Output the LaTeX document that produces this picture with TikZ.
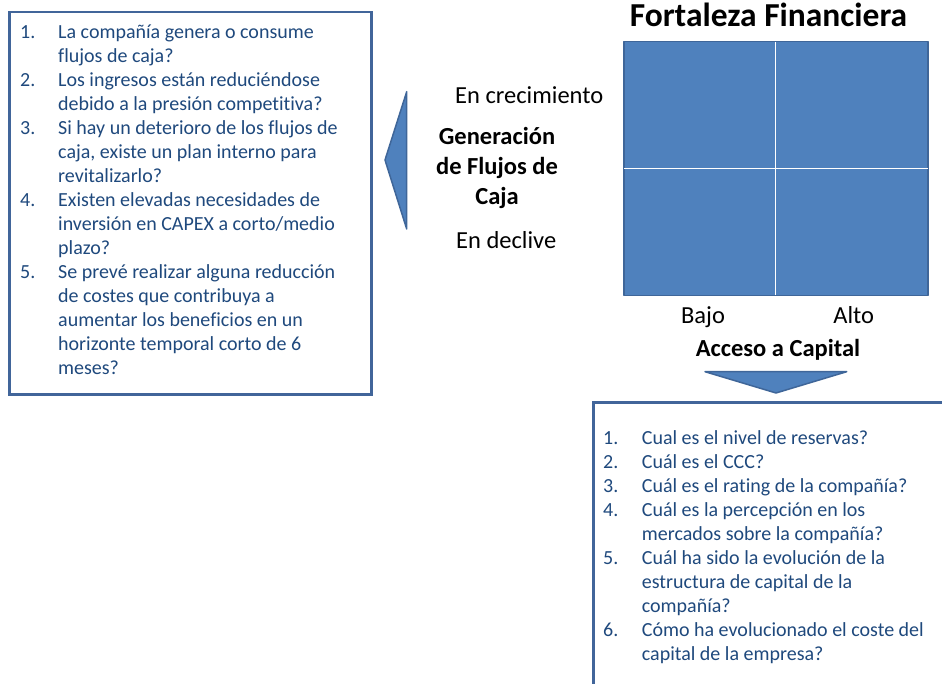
\documentclass[tikz,border=0pt]{standalone}
\usepackage{fontspec}
\setmainfont{Carlito}[Ligatures=NoCommon]
\definecolor{listc}{HTML}{1F497D}
\definecolor{boxc}{HTML}{41659A}
\definecolor{fillc}{HTML}{4F81BD}
\definecolor{edgec}{HTML}{3F6699}
\tikzset{
  listbox/.style={draw=boxc, line width=2.5pt, fill=white, inner sep=0pt},
  listtext/.style={text=listc, font=\fontsize{20}{24}\selectfont, inner sep=0pt, anchor=base west},
  lbl/.style={font=\fontsize{24.5}{30}\selectfont, inner sep=0pt},
  blbl/.style={font=\bfseries\fontsize{24.5}{30}\selectfont, inner sep=0pt, anchor=base},
  shapefill/.style={fill=fillc, draw=edgec, line width=1.5pt, line join=round},
  divider/.style={draw=white, line width=1pt}
}
\begin{document}
\begin{tikzpicture}[x=1pt,y=-1pt]
\useasboundingbox (0,0) rectangle (942,684);
\clip (0,0) rectangle (942,684);
% left question box
\node[listbox, minimum width=362pt, minimum height=382pt, anchor=north west] (leftbox) at (8,11) {};
\node[listtext] (leftlist) at (20,39) {\begin{tabular}[t]{@{}p{38pt}@{}l@{}}
1.&La compañía genera o consume\\
  &flujos de caja?\\
2.&Los ingresos están reduciéndose\\
  &debido a la presión competitiva?\\
3.&Si hay un deterioro de los flujos de\\
  &caja, existe un plan interno para\\
  &revitalizarlo?\\
4.&Existen elevadas necesidades de\\
  &inversión en CAPEX a corto/medio\\
  &plazo?\\
5.&Se prevé realizar alguna reducción\\
  &de costes que contribuya a\\
  &aumentar los beneficios en un\\
  &horizonte temporal corto de 6\\
  &meses?
\end{tabular}};
% right question box
\node[listbox, minimum width=400pt, minimum height=320pt, anchor=north west] (rightbox) at (592,401) {};
\node[listtext] (rightlist) at (603,444) {\begin{tabular}[t]{@{}p{38.7pt}@{}l@{}}
1.&Cual es el nivel de reservas?\\
2.&Cuál es el CCC?\\
3.&Cuál es el rating de la compañía?\\
4.&Cuál es la percepción en los\\
  &mercados sobre la compañía?\\
5.&Cuál ha sido la evolución de la\\
  &estructura de capital de la\\
  &compañía?\\
6.&Cómo ha evolucionado el coste del\\
  &capital de la empresa?
\end{tabular}};
% title
\node[font=\bfseries\fontsize{33.5}{40}\selectfont, inner sep=0pt, anchor=base] (title) at (768.5,26.5) {Fortaleza Financiera};
% matrix
\node[shapefill, minimum width=304pt, minimum height=254pt, anchor=north west, inner sep=0pt] (grid) at (623,41) {};
\draw[divider, shorten <=1pt, shorten >=1pt] (grid.north) -- (grid.south);
\draw[divider, shorten <=1pt, shorten >=1pt] (grid.west) -- (grid.east);
% left arrow
\draw[shapefill] (385,160) -- (406.7,91.7) -- (406.7,229) -- cycle;
% down arrow
\draw[shapefill] (705,371.7) -- (846.7,371.7) -- (776,393) -- cycle;
% axis labels
\node[lbl, anchor=base west] (crec) at (455,104) {En crecimiento};
\node[blbl] (gen1) at (497,145) {Generación};
\node[blbl] (gen2) at (497,175) {de Flujos de};
\node[blbl] (gen3) at (497,205) {Caja};
\node[lbl, anchor=base west] (decl) at (456,248.3) {En declive};
\node[lbl, anchor=base] (bajo) at (703,324) {Bajo};
\node[lbl, anchor=base] (alto) at (853.7,324) {Alto};
\node[blbl] (acceso) at (778,356.7) {Acceso a Capital};
\end{tikzpicture}
\end{document}
